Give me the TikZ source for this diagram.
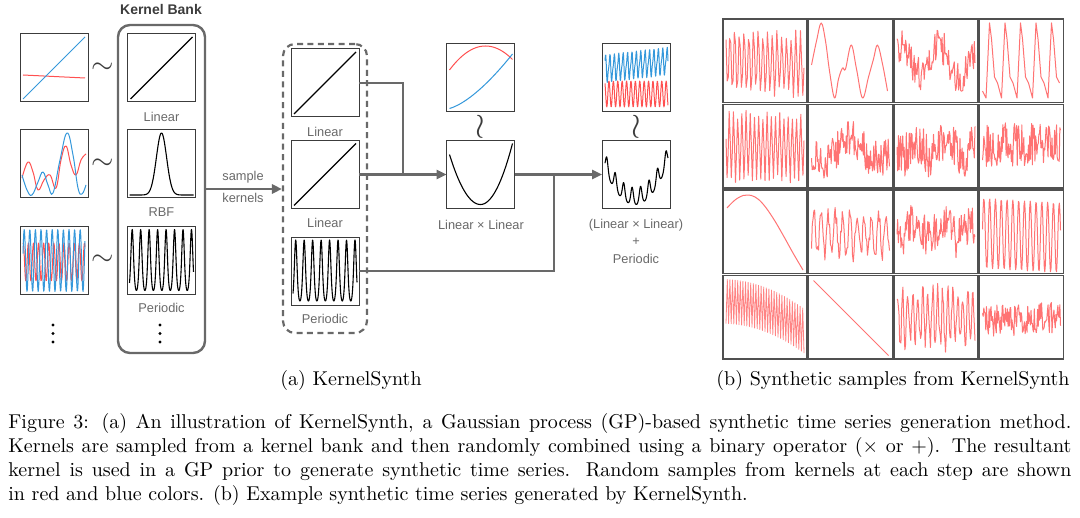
\documentclass[tikz,border=0pt]{standalone}
\usepackage{fontspec}
\newfontfamily\lsans{Liberation Sans}
\usetikzlibrary{arrows.meta}
\definecolor{boxc}{RGB}{60,60,60}
\definecolor{connc}{RGB}{105,105,105}
\definecolor{lblc}{RGB}{105,105,105}
\definecolor{cblue}{RGB}{52,152,219}
\definecolor{cred}{RGB}{255,80,80}
\definecolor{cellc}{RGB}{80,80,80}
\newcommand\plotin[2]{\begin{scope}[shift={(#1.north west)}]#2\end{scope}}
\begin{document}
\begin{tikzpicture}[x=0.5pt,y=-0.5pt,
  kbox/.style={draw=boxc, line width=0.5pt, minimum width=34pt, minimum height=34pt, inner sep=0pt, outer sep=0pt, fill=white},
  cell/.style={draw=cellc, line width=0.9pt, minimum width=42pt, minimum height=41.75pt, inner sep=0pt, outer sep=0pt},
  lbl/.style={font=\lsans\fontsize{6.4}{7.5}\selectfont, text=lblc, inner sep=0pt},
  conn/.style={draw=connc, line width=1.2pt},
  arr/.style={conn, -{Triangle[length=5pt,width=4.6pt]}},
  cB/.style={draw=cblue, line width=0.5pt, line join=round},
  cR/.style={draw=cred, line width=0.5pt, line join=round},
  cK/.style={draw=black, line width=0.55pt, line join=round},
  gR/.style={draw=cred, draw opacity=0.8, line width=0.5pt, line join=round},
  squig/.style={text=boxc, inner sep=0pt},
  dotf/.style={fill=black},
  declare function={pk(\t)=exp(-2*sin((\t-4.7)/8.47*180)*sin((\t-4.7)/8.47*180));}
]
\useasboundingbox (0,0) rectangle (1080,518);

% ---------- left column: samples ----------
\node[kbox] (sA) at (54,68) {};
\node[kbox] (sB) at (54,164) {};
\node[kbox] (sC) at (54,260.5) {};
\plotin{sA}{\draw[cR] (3,41) -- (65,44); \draw[cB] (3,65) -- (65,3);}
\plotin{sB}{
 \draw[cR] plot[smooth,tension=0.7] coordinates {(2,48) (8,32) (13,42) (18,60) (24,50) (30,45) (36,58) (41,30) (46,16) (51,35) (56,45) (61,30) (66,24)};
 \draw[cB] plot[smooth,tension=0.7] coordinates {(2,45) (7,60) (12,65) (18,52) (23,42) (28,55) (33,63) (40,30) (47,3) (53,25) (58,58) (62,64) (66,55)};}
\plotin{sC}{
 \draw[cR] plot[domain=3:65,samples=160] (\x,{35.5+19*sin(\x/5.1*360+40)});
 \draw[cB] plot[domain=3:65,samples=160] (\x,{34+31*sin(\x/5.6*360)});}
\node[squig,font=\Large] (t1) at (103,68) {$\sim$};
\node[squig,font=\Large] (t2) at (103,164) {$\sim$};
\node[squig,font=\Large] (t3) at (103,260) {$\sim$};
\foreach \yy in {325,333.5,342}{\fill[dotf] (53,\yy) circle[radius=0.85pt];}

% ---------- kernel bank ----------
\node[draw=connc, line width=1.2pt, rounded corners=6pt, minimum width=43.5pt, minimum height=164pt] (bank) at (161.5,189) {};
\node[font=\lsans\bfseries\fontsize{7}{8}\selectfont, text=boxc] (bankt) at (161,9) {Kernel Bank};
\node[kbox] (kL) at (161.5,68) {};
\node[kbox] (kR) at (161.5,164) {};
\node[kbox] (kP) at (161.5,260.5) {};
\plotin{kL}{\draw[cK] (3,65) -- (65,3);}
\plotin{kR}{\draw[cK] plot[domain=2:66,samples=120] (\x,{65-62*exp(-(\x-34)*(\x-34)/52)});}
\plotin{kP}{\draw[cK] plot[domain=2:66,samples=260] (\x,{64-61*(pk(\x)-0.1353)/0.8647});}
\node[lbl] (kLl) at (161.5,117) {Linear};
\node[lbl] (kRl) at (161.5,212) {RBF};
\node[lbl] (kPl) at (161.5,308) {Periodic};
\foreach \yy in {325,333.5,342}{\fill[dotf] (160,\yy) circle[radius=0.85pt];}

% ---------- sampled kernels ----------
\node[draw=connc, line width=1.1pt, dash pattern=on 3pt off 2.2pt, rounded corners=6pt, minimum width=42pt, minimum height=144.5pt] (dbox) at (325,188.5) {};
\node[kbox] (dL1) at (325,83) {};
\node[kbox] (dL2) at (325,174.5) {};
\node[kbox] (dP) at (325,271) {};
\plotin{dL1}{\draw[cK] (3,65) -- (65,3);}
\plotin{dL2}{\draw[cK] (3,65) -- (65,3);}
\plotin{dP}{\draw[cK] plot[domain=2:66,samples=260] (\x,{64-61*(pk(\x)-0.1353)/0.8647});}
\node[lbl] (dL1l) at (325,132) {Linear};
\node[lbl] (dL2l) at (325,223) {Linear};
\node[lbl] (dPl) at (325,319) {Periodic};

\draw[arr] (bank.east) -- (bank.east -| dbox.west);
\node[lbl] (sk1) at (243,177) {sample};
\node[lbl] (sk2) at (243,198) {kernels};

% ---------- product ----------
\node[kbox] (prod) at (480.5,174.5) {};
\node[kbox] (prodS) at (480.5,78) {};
\plotin{prod}{\draw[cK] plot[domain=3:66,samples=80] (\x,{64-ifthenelse(\x<34,0.052,0.0596)*(\x-34)*(\x-34)});}
\plotin{prodS}{
 \draw[cR] plot[domain=3:66,samples=60] (\x,{2+0.0185*(\x-39)*(\x-39)});
 \draw[cB] plot[domain=3:66,samples=60] (\x,{65-55*pow(\x/66,1.5)});}
\node[squig,font=\LARGE] (w1) at (480.5,127) {$\wr$};
\node[lbl] (prodl) at (481,225) {Linear × Linear};

% ---------- sum ----------
\node[kbox] (sum) at (636,174.5) {};
\node[kbox] (sumS) at (636,78) {};
\plotin{sum}{\draw[cK] plot[domain=3:66,samples=220] (\x,{64-0.038*(\x-33)*(\x-33)-17*(pk(\x)-0.1353)/0.8647});}
\plotin{sumS}{
 \draw[cR] plot[domain=3:66,samples=170] (\x,{50+13*sin(\x/4.4*360+60)});
 \draw[cB] plot[domain=3:66,samples=170] (\x,{25-0.12*\x+12*sin(\x/4.4*360)+4*sin(\x/2.2*360)});}
\node[squig,font=\LARGE] (w2) at (636,127) {$\wr$};
\node[lbl] (suml1) at (636,225) {(Linear × Linear)};
\node[lbl] (suml2) at (636,242) {+};
\node[lbl] (suml3) at (636,259) {Periodic};

% ---------- connectors ----------
\coordinate (j1) at (403,174.5);
\coordinate (j2) at (554,174.5);
\draw[conn] (dL1.east) -| (j1);
\draw[arr] (dL2.east) -- (prod.west);
\draw[arr] (prod.east) -- (sum.west);
\draw[conn] (dP.east) -| (j2);

% ---------- grid of synthetic samples ----------
\foreach \i in {1,...,4}{\foreach \j in {1,...,4}{
  \node[cell] (c\j\i) at ({765+85.5*(\i-1)},{60.75+85.5*(\j-1)}) {};}}
\pgfmathsetseed{11}
\plotin{c11}{\draw[gR] plot[domain=3:81,samples=67] (\x,{40+0.08*\x+(30+6*rand)*sin(\x/4.7*360+90)});}
\plotin{c12}{\draw[gR] plot[smooth,tension=0.6] coordinates {(3,46) (8,22) (12.7,4) (17,22) (21,52) (26,79) (30,60) (34,49) (37,50) (42.7,26) (48,50) (54,79) (60,58) (65,40) (69,26) (74,45) (79,72)};}
\pgfmathsetseed{23}
\plotin{c13}{\draw[gR] plot[domain=3:81,samples=110] (\x,{42-14*sin(\x/40*360+40)+18*rand});}
\plotin{c14}{\draw[gR] (3,72) \foreach \p in {10,25.5,41,56.5,72}{ -- (\p-3.5,79) -- (\p,4) -- (\p+2,20) -- (\p+5,58) -- (\p+8,64)};}
\pgfmathsetseed{37}
\plotin{c21}{\draw[gR] plot[domain=3:81,samples=75] (\x,{42+(32+5*rand)*sin(\x/4.2*360+90)});}
\pgfmathsetseed{41}
\plotin{c22}{\draw[gR] plot[domain=3:81,samples=120] (\x,{45+10*sin(\x/55*360)+19*rand});}
\pgfmathsetseed{53}
\plotin{c23}{\draw[gR] plot[domain=3:81,samples=110] (\x,{44+8*sin(\x/30*360)+22*rand});}
\pgfmathsetseed{67}
\plotin{c24}{\draw[gR] plot[domain=3:81,samples=120] (\x,{40+22*rand});}
\plotin{c31}{\draw[gR] plot[smooth,tension=0.7] coordinates {(4,18) (12,10) (20,5.5) (25,5) (32,7) (40,14) (50,28) (60,45) (70,63) (80,80)};}
\pgfmathsetseed{71}
\plotin{c32}{\draw[gR] plot[domain=3:81,samples=100] (\x,{44+20*sin(\x/7.2*360)+9*rand});}
\pgfmathsetseed{83}
\plotin{c33}{\draw[gR] plot[domain=3:81,samples=120] (\x,{40+8*sin(\x/28*360)+20*rand});}
\plotin{c34}{\draw[gR] plot[domain=3:81,samples=140] (\x,{43+0.06*\x+35*sin(\x/5.8*360)});}
\plotin{c41}{\draw[gR, draw opacity=0.7, line width=0.4pt] plot[domain=3:81,samples=61] (\x,{26+0.0045*\x*\x+22*sin((\x-3)/2.6*360+90)});}
\plotin{c42}{\draw[gR] (5,5) -- (80,80);}
\pgfmathsetseed{97}
\plotin{c43}{\draw[gR] plot[domain=3:81,samples=120] (\x,{42+26*sin(\x/5*360)+10*rand});}
\pgfmathsetseed{101}
\plotin{c44}{\draw[gR] plot[domain=3:81,samples=120] (\x,{46-0.05*\x+16*rand});}

% ---------- captions ----------
\node[font=\fontsize{10}{12}\selectfont, inner sep=0pt] (capa) at (351,380) {(a) KernelSynth};
\node[font=\fontsize{10}{12}\selectfont, inner sep=0pt] (capb) at (893,380) {(b) Synthetic samples from KernelSynth};
\node[anchor=north west, text width=531.5pt, align=justify, inner sep=0pt, font=\fontsize{10}{12}\selectfont] (cap) at (8,413)
{Figure 3: (a) An illustration of KernelSynth, a Gaussian process (GP)-based synthetic time series generation method.\linebreak
Kernels are sampled from a kernel bank and then randomly combined using a binary operator (${\times}$ or ${+}$). The resultant\linebreak
kernel is used in a GP prior to generate synthetic time series. Random samples from kernels at each step are shown\linebreak
in red and blue colors. (b) Example synthetic time series generated by KernelSynth.};
\end{tikzpicture}
\end{document}
